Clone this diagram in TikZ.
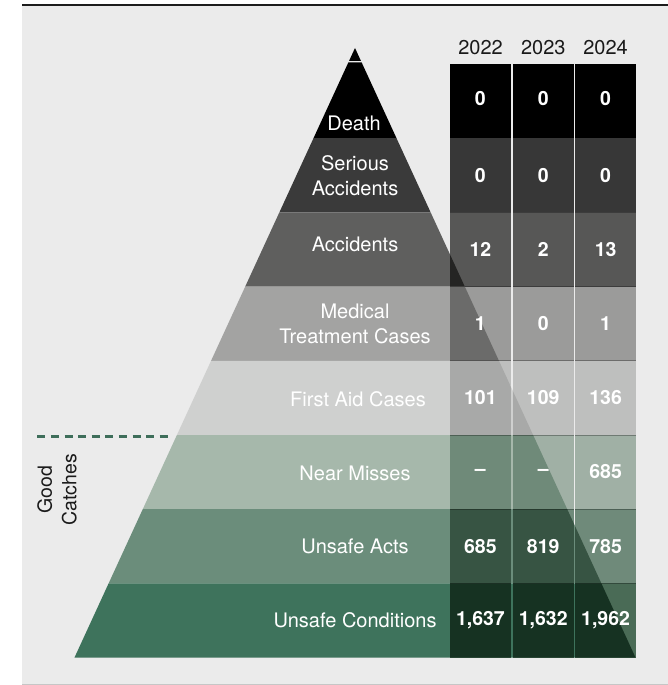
\documentclass[tikz,border=0pt]{standalone}
\usepackage{fontspec}
\setmainfont{TeX Gyre Heros}
\definecolor{bgc}{HTML}{EBEBEB}
\definecolor{topline}{HTML}{1C1C1C}
\definecolor{botline}{HTML}{C6C6C6}
\definecolor{dashc}{HTML}{3E6E5A}
\definecolor{ink}{HTML}{1A1A1A}
% pyramid (P), table (T), overlap (O) colours per row
\definecolor{Pa}{HTML}{000000}\definecolor{Ta}{HTML}{000000}\definecolor{Oa}{HTML}{000000}
\definecolor{Pb}{HTML}{3A3A3A}\definecolor{Tb}{HTML}{373737}\definecolor{Ob}{HTML}{1F1F1F}
\definecolor{Pc}{HTML}{5F5F5E}\definecolor{Tc}{HTML}{575756}\definecolor{Oc}{HTML}{242423}
\definecolor{Pd}{HTML}{A3A3A2}\definecolor{Td}{HTML}{9B9B9A}\definecolor{Od}{HTML}{6B6B6A}
\definecolor{Pe}{HTML}{CFD0CF}\definecolor{Te}{HTML}{BEBFBE}\definecolor{Oe}{HTML}{A8A9A8}
\definecolor{Pf}{HTML}{A6B8AB}\definecolor{Tf}{HTML}{A0B0A5}\definecolor{Of}{HTML}{6F8A79}
\definecolor{Pg}{HTML}{6B8D7B}\definecolor{Tg}{HTML}{6F8A7A}\definecolor{Og}{HTML}{375443}
\definecolor{Ph}{HTML}{3E735C}\definecolor{Th}{HTML}{4A6B56}\definecolor{Oh}{HTML}{163222}
\newcommand\pyrfill[3]{\fill[#3] ({355-(#1-48)*0.4602},#1) -- ({355+(#1-48)*0.4602},#1) -- ({355+(#2-48)*0.4602},#2) -- ({355-(#2-48)*0.4602},#2) -- cycle;}
\newcommand\pyrclip[2]{\clip ({355-(#1-48)*0.4602},#1) -- ({355+(#1-48)*0.4602},#1) -- ({355+(#2-48)*0.4602},#2) -- ({355-(#2-48)*0.4602},#2) -- cycle;}
\newcommand\tabcells[3]{\fill[#3] (450,#1) rectangle (510.8,#2); \fill[#3] (512.6,#1) rectangle (573.8,#2); \fill[#3] (575.2,#1) rectangle (636,#2);}
\newcommand\tabrow[5]{% ya yb P T O
  \pyrfill{#1}{#2}{#3}
  \tabcells{#1}{#2}{#4}
  \begin{scope}\pyrclip{#1}{#2}\tabcells{#1}{#2}{#5}\end{scope}}
\begin{document}
\begin{tikzpicture}[x=1pt,y=-1pt,
  lbl/.style={text=white,font=\fontsize{20}{25.5}\selectfont,align=center,inner sep=0pt},
  num/.style={text=white,font=\fontsize{19.5}{23}\selectfont\bfseries,inner sep=0pt},
  yr/.style={text=ink,font=\fontsize{20}{23}\selectfont,inner sep=0pt},
  side/.style={text=ink,font=\fontsize{19.5}{24.5}\selectfont,align=center,inner sep=0pt,rotate=90}]
\useasboundingbox (0,0) rectangle (668,685);
\fill[white] (0,0) rectangle (668,685);
\fill[bgc] (22,6) rectangle (668,684);
\fill[topline] (22,4) rectangle (668,6);
\fill[botline] (22,684) rectangle (668,685);

% apex
\pyrfill{48}{60.8}{Pa}
% rows
\tabrow{62.3}{138.2}{Pa}{Ta}{Oa}
\fill[bgc] (440,62) rectangle (640,64);
\tabrow{138.2}{212.4}{Pb}{Tb}{Ob}
\tabrow{212.4}{286.6}{Pc}{Tc}{Oc}
\tabrow{286.6}{360.8}{Pd}{Td}{Od}
\tabrow{360.8}{435}{Pe}{Te}{Oe}
\tabrow{435}{509.2}{Pf}{Tf}{Of}
\tabrow{509.2}{583.4}{Pg}{Tg}{Og}
\tabrow{583.4}{657.6}{Ph}{Th}{Oh}

% row lines in the table
\foreach \yy in {212.4,286.6,360.8,435,509.2,583.4}{
  \fill[black,opacity=0.3] (450,\yy-0.5) rectangle (510.8,\yy+0.5);
  \fill[black,opacity=0.3] (512.6,\yy-0.5) rectangle (573.8,\yy+0.5);
  \fill[black,opacity=0.3] (575.2,\yy-0.5) rectangle (636,\yy+0.5);
}

% years
\node[yr] (y22) at (480.5,48) {2022};
\node[yr] (y23) at (543.3,48) {2023};
\node[yr] (y24) at (605.6,48) {2024};

% pyramid labels
\node[lbl] (lDeath) at (354,123) {Death};
\node[lbl] (lSer) at (355,175.5) {Serious\\Accidents};
\node[lbl] (lAcc) at (355,244.5) {Accidents};
\node[lbl] (lMed) at (355,324) {Medical\\Treatment Cases};
\node[lbl] (lFirst) at (358,399) {First Aid Cases};
\node[lbl] (lNear) at (355,473) {Near Misses};
\node[lbl] (lActs) at (355,546) {Unsafe Acts};
\node[lbl] (lCond) at (355,620) {Unsafe Conditions};

% numbers
\node[num] (n11) at (480.4,99) {0};
\node[num] (n12) at (543.2,99) {0};
\node[num] (n13) at (605.6,99) {0};
\node[num] (n21) at (480.4,176) {0};
\node[num] (n22) at (543.2,176) {0};
\node[num] (n23) at (605.6,176) {0};
\node[num] (n31) at (480.4,249.5) {12};
\node[num] (n32) at (543.2,249.5) {2};
\node[num] (n33) at (605.6,249.5) {13};
\node[num] (n41) at (480.4,323.5) {1};
\node[num] (n42) at (543.2,323.5) {0};
\node[num] (n43) at (605.6,323.5) {1};
\node[num] (n51) at (480.4,398) {101};
\node[num] (n52) at (543.2,398) {109};
\node[num] (n53) at (605.6,398) {136};
\node[num] (n61) at (480.4,472) {–};
\node[num] (n62) at (543.2,472) {–};
\node[num] (n63) at (605.6,472) {685};
\node[num] (n71) at (480.4,546.5) {685};
\node[num] (n72) at (543.2,546.5) {819};
\node[num] (n73) at (605.6,546.5) {785};
\node[num] (n81) at (480.4,620.5) {1,637};
\node[num] (n82) at (543.2,620.5) {1,632};
\node[num] (n83) at (605.6,620.5) {1,962};

% good catches
\coordinate (dashL) at (37.3,436.5);
\coordinate (dashR) at (168,436.5);
\draw[dashc,line width=2.6pt,dash pattern=on 8pt off 5.6pt] (dashL) -- (dashR);
\node[side] (good) at (57,490) {Good\\Catches};
\end{tikzpicture}
\end{document}
